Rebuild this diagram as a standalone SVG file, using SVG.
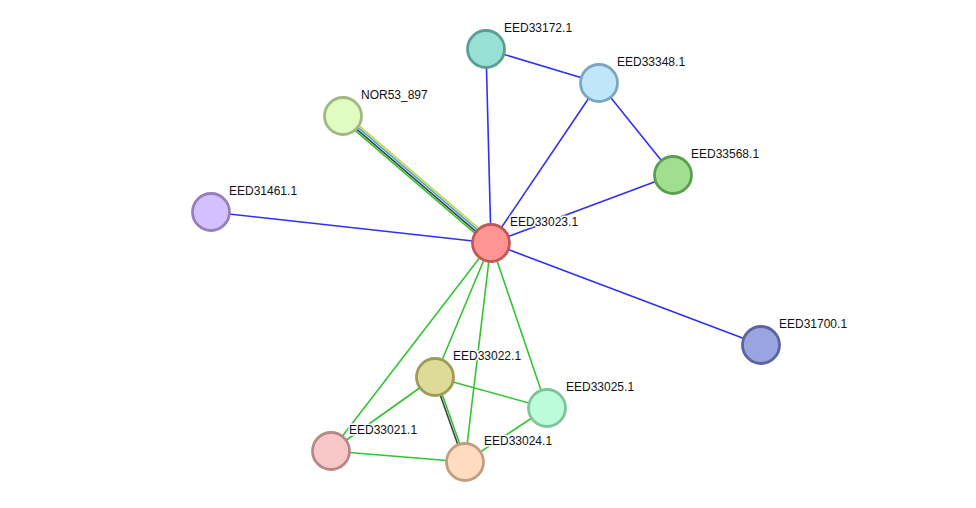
<svg xmlns="http://www.w3.org/2000/svg" width="976" height="508" viewBox="0 0 976 508">
<style>
.b{stroke:#3030f0;stroke-width:1.6;fill:none}
.g{stroke:#33c333;stroke-width:1.6;fill:none}
.k{stroke:#404040;stroke-width:1.6;fill:none}
.y{stroke:#c8d83a;stroke-width:1.6;fill:none}
.c{stroke:#40a8d8;stroke-width:1.6;fill:none}
.n{stroke-width:2.8}
text{font-family:"Liberation Sans",Arial,sans-serif;font-size:12px;fill:#111;paint-order:stroke;stroke:#fff;stroke-width:3;stroke-linejoin:round}
</style>
<rect width="976" height="508" fill="#fff"/>
<g id="connectors">
<line class="b" x1="491" y1="243" x2="486" y2="49"/>
<line class="b" x1="491" y1="243" x2="599" y2="83"/>
<line class="b" x1="491" y1="243" x2="673" y2="175"/>
<line class="b" x1="491" y1="243" x2="211" y2="212"/>
<line class="b" x1="491" y1="243" x2="761" y2="345"/>
<line class="b" x1="486" y1="49" x2="599" y2="83"/>
<line class="b" x1="599" y1="83" x2="673" y2="175"/>
<line class="y" x1="345.0" y1="113.7" x2="493.0" y2="240.7"/>
<line class="c" x1="343.7" y1="115.2" x2="491.7" y2="242.2"/>
<line class="k" x1="342.3" y1="116.8" x2="490.3" y2="243.8"/>
<line class="g" x1="341.0" y1="118.3" x2="489.0" y2="245.3"/>
<line class="g" x1="491" y1="243" x2="435" y2="377"/>
<line class="g" x1="491" y1="243" x2="547" y2="408"/>
<line class="g" x1="491" y1="243" x2="331" y2="451"/>
<line class="g" x1="491" y1="243" x2="465" y2="462"/>
<line class="g" x1="435" y1="377" x2="547" y2="408"/>
<line class="g" x1="435" y1="377" x2="331" y2="451"/>
<line class="k" x1="434.1" y1="377.4" x2="464.1" y2="462.4"/>
<line class="g" x1="435.9" y1="376.6" x2="465.9" y2="461.6"/>
<line class="g" x1="331" y1="451" x2="465" y2="462"/>
<line class="g" x1="547" y1="408" x2="465" y2="462"/>
</g>
<g id="EED33172.1"><circle class="n" cx="486" cy="49" r="18.5" fill="#98e0d6" stroke="#5a9e94"/><text x="504" y="32">EED33172.1</text></g>
<g id="EED33348.1"><circle class="n" cx="599" cy="83" r="18.5" fill="#c0e6fb" stroke="#7ca6c0"/><text x="617" y="66">EED33348.1</text></g>
<g id="EED33568.1"><circle class="n" cx="673" cy="175" r="18.5" fill="#9fdf8f" stroke="#5c9e4f"/><text x="691" y="158">EED33568.1</text></g>
<g id="NOR53_897"><circle class="n" cx="343" cy="116" r="18.5" fill="#e0fcc0" stroke="#a0b884"/><text x="361" y="99">NOR53_897</text></g>
<g id="EED31461.1"><circle class="n" cx="211" cy="212" r="18.5" fill="#d4c0fc" stroke="#9680bc"/><text x="229" y="195">EED31461.1</text></g>
<g id="EED33023.1"><circle class="n" cx="491" cy="243" r="18.5" fill="#ff9494" stroke="#c05858"/><text x="510" y="226">EED33023.1</text></g>
<g id="EED31700.1"><circle class="n" cx="761" cy="345" r="18.5" fill="#9aa4e0" stroke="#5a64a0"/><text x="779" y="328">EED31700.1</text></g>
<g id="EED33022.1"><circle class="n" cx="435" cy="377" r="18.5" fill="#dcdc98" stroke="#9c9c58"/><text x="453" y="360">EED33022.1</text></g>
<g id="EED33025.1"><circle class="n" cx="547" cy="408" r="18.5" fill="#bcfcd8" stroke="#80c49c"/><text x="566" y="391">EED33025.1</text></g>
<g id="EED33021.1"><circle class="n" cx="331" cy="451" r="18.5" fill="#f8c8c8" stroke="#b88888"/><text x="349" y="434">EED33021.1</text></g>
<g id="EED33024.1"><circle class="n" cx="465" cy="462" r="18.5" fill="#ffdcc0" stroke="#c0a080"/><text x="484" y="445">EED33024.1</text></g>
</svg>
